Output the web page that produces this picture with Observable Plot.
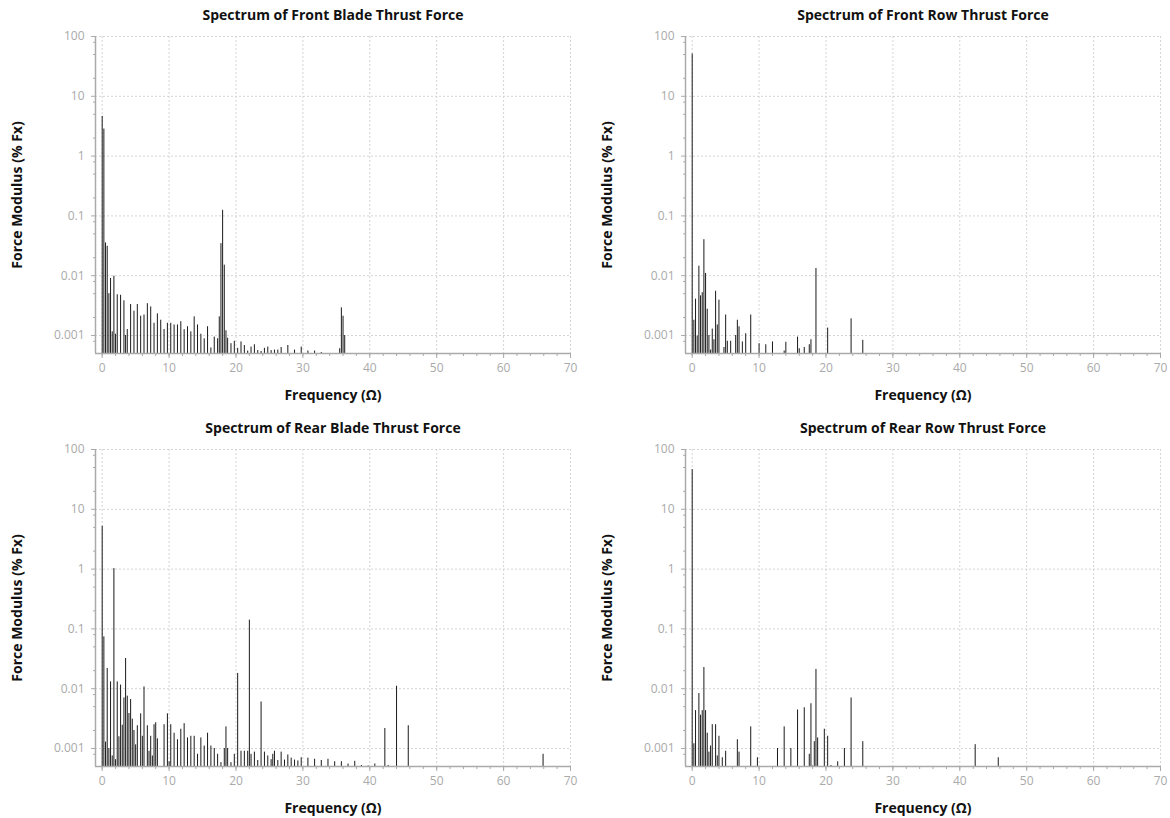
<!DOCTYPE html>
<html>
<head>
<meta charset="utf-8">
<script src="https://cdn.jsdelivr.net/npm/d3@7"></script>
<script src="https://cdn.jsdelivr.net/npm/@observablehq/plot@0.6"></script>
<style>
  html, body { margin: 0; padding: 0; background: #fff; }
  #wrap { position: relative; width: 1170px; height: 818px; overflow: hidden; }
  .panel { position: absolute; }
</style>
</head>
<body>
<div id="wrap"></div>
<script>
// ---------- data ----------
const titles = [
  "Spectrum of Front Blade Thrust Force",
  "Spectrum of Front Row Thrust Force",
  "Spectrum of Rear Blade Thrust Force",
  "Spectrum of Rear Row Thrust Force"
];
const xLabel = "Frequency (Ω)";
const yLabel = "Force Modulus (% Fx)";

const xMajorTicks = [0, 10, 20, 30, 40, 50, 60, 70];
const xMinorTicks = [0, 2, 4, 6, 8, 10, 12, 14, 16, 18, 20, 22, 24, 26, 28, 30, 32, 34, 36, 38, 40, 42, 44, 46, 48, 50, 52, 54, 56, 58, 60, 62, 64, 66, 68, 70];
const yMajorTicks = [100, 10, 1, 0.1, 0.01, 0.001];
const yTickLabels = ["100", "10", "1", "0.1", "0.01", "0.001"];
const yMinorTicks = [80, 50, 20, 8, 5, 2, 0.8, 0.5, 0.2, 0.08, 0.05, 0.02, 0.008, 0.005, 0.002, 0.0008];

const frontBladeFreq = [0, 0.25, 0.5, 0.75, 1, 1.25, 1.5, 1.75, 2, 2.25, 2.75, 3.25, 3.5, 3.75, 4.25, 4.75, 5.25, 5.75, 6.25, 6.75, 7.25, 7.75, 8.25, 8.75, 9.25, 9.75, 10.25, 10.75, 11.25, 11.75, 12.25, 12.75, 13.25, 13.75, 14.25, 14.75, 15.25, 15.75, 16.25, 16.75, 17.25, 17.5, 17.75, 18, 18.25, 18.5, 18.75, 19.25, 19.75, 20.25, 20.75, 21.25, 21.75, 22.25, 22.75, 23.25, 23.75, 24.25, 24.75, 25.25, 25.75, 26.25, 26.75, 27.75, 28.75, 29.75, 30.75, 31.75, 32.75, 35.5, 35.75, 36, 36.25];
const frontBladeMod = [4.6, 2.83, 0.0353, 0.031, 0.005, 0.009, 0.00115, 0.0098, 0.00105, 0.0048, 0.0047, 0.0038, 0.001, 0.00126, 0.0033, 0.00255, 0.0033, 0.0021, 0.0022, 0.0034, 0.003, 0.0016, 0.0023, 0.0018, 0.00126, 0.0016, 0.0016, 0.0015, 0.0015, 0.0017, 0.00125, 0.0014, 0.00115, 0.00205, 0.0015, 0.00105, 0.00088, 0.0014, 0.00062, 0.00094, 0.00088, 0.00205, 0.0344, 0.124, 0.015, 0.0012, 0.0009, 0.00073, 0.0008, 0.00061, 0.00078, 0.00068, 0.00055, 0.00064, 0.0007, 0.00056, 0.00054, 0.00061, 0.00064, 0.00056, 0.00057, 0.00057, 0.00063, 0.00068, 0.00057, 0.00064, 0.00055, 0.00055, 0.00052, 0.0006, 0.0029, 0.0021, 0.001];

const frontRowFreq = [0, 0.25, 0.5, 0.75, 1, 1.25, 1.5, 1.75, 2, 2.25, 2.5, 2.75, 3, 3.25, 3.5, 3.75, 4, 4.75, 5, 5.25, 5.75, 6.5, 6.75, 7, 7.5, 8, 8.75, 10, 11, 12, 13.75, 14, 15.75, 16, 16.75, 17.5, 17.75, 18.5, 20.25, 23.75, 25.5];
const frontRowMod = [51, 0.0018, 0.00405, 0.00098, 0.0144, 0.0046, 0.0052, 0.04, 0.0109, 0.00275, 0.001, 0.00057, 0.00128, 0.00085, 0.0055, 0.0015, 0.0039, 0.00063, 0.0022, 0.0008, 0.0008, 0.001, 0.0018, 0.0014, 0.00078, 0.00107, 0.0022, 0.00073, 0.0007, 0.00078, 0.00055, 0.00077, 0.00094, 0.0006, 0.00063, 0.0007, 0.00085, 0.0132, 0.00133, 0.0019, 0.00083];

const rearBladeFreq = [0, 0.25, 0.5, 0.75, 1, 1.25, 1.5, 1.75, 2, 2.25, 2.5, 2.75, 3, 3.25, 3.5, 3.75, 4, 4.25, 4.5, 4.75, 5, 5.25, 5.75, 6, 6.25, 6.75, 7, 7.25, 7.5, 7.75, 8, 8.25, 9.25, 9.75, 10, 10.25, 10.75, 11.25, 11.75, 12.25, 12.75, 13.25, 13.75, 14.25, 14.75, 15.25, 15.75, 16.25, 16.75, 17.25, 17.75, 18.25, 18.5, 18.75, 19.25, 19.75, 20.25, 20.75, 21.25, 21.75, 22, 22.25, 22.75, 23.25, 23.75, 24.25, 24.75, 25.25, 25.5, 25.75, 26.25, 26.75, 27.25, 27.75, 28.25, 28.75, 29.25, 29.75, 30.75, 31.75, 32.75, 33.75, 34.75, 35.75, 36.75, 37.75, 38.75, 39.75, 40.75, 42.25, 42.75, 44, 45.75, 65.9];
const rearBladeMod = [5.2, 0.0736, 0.00128, 0.0218, 0.001, 0.013, 0.00075, 1.02, 0.00065, 0.013, 0.00157, 0.0115, 0.00245, 0.007, 0.032, 0.0075, 0.00385, 0.0066, 0.0031, 0.002, 0.00115, 0.0024, 0.0038, 0.0016, 0.0107, 0.0024, 0.0009, 0.0016, 0.00075, 0.0025, 0.0027, 0.00145, 0.0025, 0.0038, 0.0006, 0.0025, 0.0018, 0.0014, 0.0021, 0.0026, 0.0015, 0.0016, 0.0016, 0.0008, 0.0015, 0.0011, 0.0018, 0.0011, 0.001, 0.0008, 0.00058, 0.001, 0.0023, 0.001, 0.00058, 0.0008, 0.018, 0.0009, 0.0009, 0.0009, 0.14, 0.0008, 0.00087, 0.00063, 0.006, 0.00087, 0.00075, 0.00065, 0.0008, 0.0009, 0.00063, 0.00087, 0.00064, 0.00078, 0.00069, 0.00064, 0.00062, 0.0007, 0.00069, 0.00066, 0.00063, 0.00066, 0.0006, 0.0006, 0.00055, 0.00061, 0.00052, 0.00051, 0.00055, 0.00216, 0.00052, 0.011, 0.0024, 0.0008];

const rearRowFreq = [0, 0.25, 0.5, 1, 1.25, 1.5, 1.75, 2, 2.25, 2.5, 2.75, 3, 3.5, 3.75, 4, 4.5, 5, 6.75, 7, 8.75, 9.75, 10.75, 12.75, 13.75, 14.75, 15.75, 16.75, 17.5, 17.75, 18, 18.25, 18.5, 18.75, 19.75, 20.25, 20.75, 21.75, 22.75, 23.75, 25.5, 42.3, 45.75];
const rearRowMod = [46, 0.0012, 0.0043, 0.0083, 0.0036, 0.0043, 0.0226, 0.0043, 0.0018, 0.00087, 0.0011, 0.0025, 0.0025, 0.00075, 0.0016, 0.0007, 0.0009, 0.0014, 0.00087, 0.0023, 0.0007, 0.0005, 0.001, 0.0023, 0.001, 0.0044, 0.0048, 0.0008, 0.0056, 0.00051, 0.0013, 0.021, 0.0015, 0.0021, 0.0016, 0.00052, 0.0006, 0.001, 0.007, 0.0013, 0.00116, 0.0007];

// ---------- chart ----------
const xDomain = [-1, 70];
const yDomain = [0.0005, 100];
const FONT = "'Open Sans', 'Noto Sans', sans-serif";

function panel(title, freq, mod, opts) {
  const data = freq.map((f, i) => ({f, v: mod[i]}));
  return Plot.plot({
    width: opts.width,
    height: opts.height,
    marginLeft: 95,
    marginRight: opts.marginRight,
    marginTop: opts.marginTop,
    marginBottom: opts.marginBottom,
    style: {fontFamily: FONT, fontSize: "12px", background: "#fff", color: "#aaa"},
    x: {type: "linear", domain: xDomain},
    y: {type: "log", domain: yDomain},
    marks: [
      Plot.gridX({ticks: xMajorTicks, stroke: "#d4d4d4", strokeOpacity: 1, strokeDasharray: "2,2"}),
      Plot.gridY({ticks: yMajorTicks, stroke: "#d4d4d4", strokeOpacity: 1, strokeDasharray: "2,2"}),
      Plot.ruleX(data, {x: "f", y1: yDomain[0], y2: "v", stroke: "#1a1a1a", strokeWidth: 1}),
      Plot.ruleX([xDomain[0]], {stroke: "#aaa", strokeWidth: 1.5}),
      Plot.ruleY([yDomain[0]], {stroke: "#aaa", strokeWidth: 1.5}),
      Plot.axisX({ticks: xMinorTicks, tickSize: 3, tickFormat: () => "", label: null, stroke: "#aaa"}),
      Plot.axisX({ticks: xMajorTicks, tickSize: 5, tickPadding: 5, tickFormat: d => String(d), label: null, stroke: "#aaa", fill: "#aaa", fontSize: 12}),
      Plot.axisY({ticks: yMinorTicks, tickSize: 2, tickFormat: () => "", label: null, stroke: "#aaa"}),
      Plot.axisY({ticks: yMajorTicks, tickSize: 4, tickPadding: 7, tickFormat: d => yTickLabels[yMajorTicks.indexOf(d)], label: null, stroke: "#aaa", fill: "#aaa", fontSize: 12}),
      Plot.text([title], {text: d => d, frameAnchor: "top", lineAnchor: "middle", textAnchor: "middle", dy: -21, fontWeight: "bold", fontSize: 14, fill: "#111"}),
      Plot.text([xLabel], {text: d => d, frameAnchor: "bottom", lineAnchor: "middle", textAnchor: "middle", dy: 42, fontWeight: "bold", fontSize: 14, fill: "#111"}),
      Plot.text([yLabel], {text: d => d, frameAnchor: "left", lineAnchor: "middle", textAnchor: "middle", dx: -78, rotate: -90, fontWeight: "bold", fontSize: 14, fill: "#111"})
    ]
  });
}

const wrap = document.getElementById("wrap");
const layout = [
  {title: titles[0], freq: frontBladeFreq, mod: frontBladeMod, left: 0, top: 0, width: 590, height: 412, marginRight: 20, marginTop: 36, marginBottom: 59},
  {title: titles[1], freq: frontRowFreq, mod: frontRowMod, left: 590, top: 0, width: 580, height: 412, marginRight: 10, marginTop: 36, marginBottom: 59},
  {title: titles[2], freq: rearBladeFreq, mod: rearBladeMod, left: 0, top: 412, width: 590, height: 406, marginRight: 20, marginTop: 37, marginBottom: 52},
  {title: titles[3], freq: rearRowFreq, mod: rearRowMod, left: 590, top: 412, width: 580, height: 406, marginRight: 10, marginTop: 37, marginBottom: 52}
];
for (const p of layout) {
  const div = document.createElement("div");
  div.className = "panel";
  div.style.left = p.left + "px";
  div.style.top = p.top + "px";
  div.appendChild(panel(p.title, p.freq, p.mod, p));
  wrap.appendChild(div);
}
</script>
</body>
</html>
